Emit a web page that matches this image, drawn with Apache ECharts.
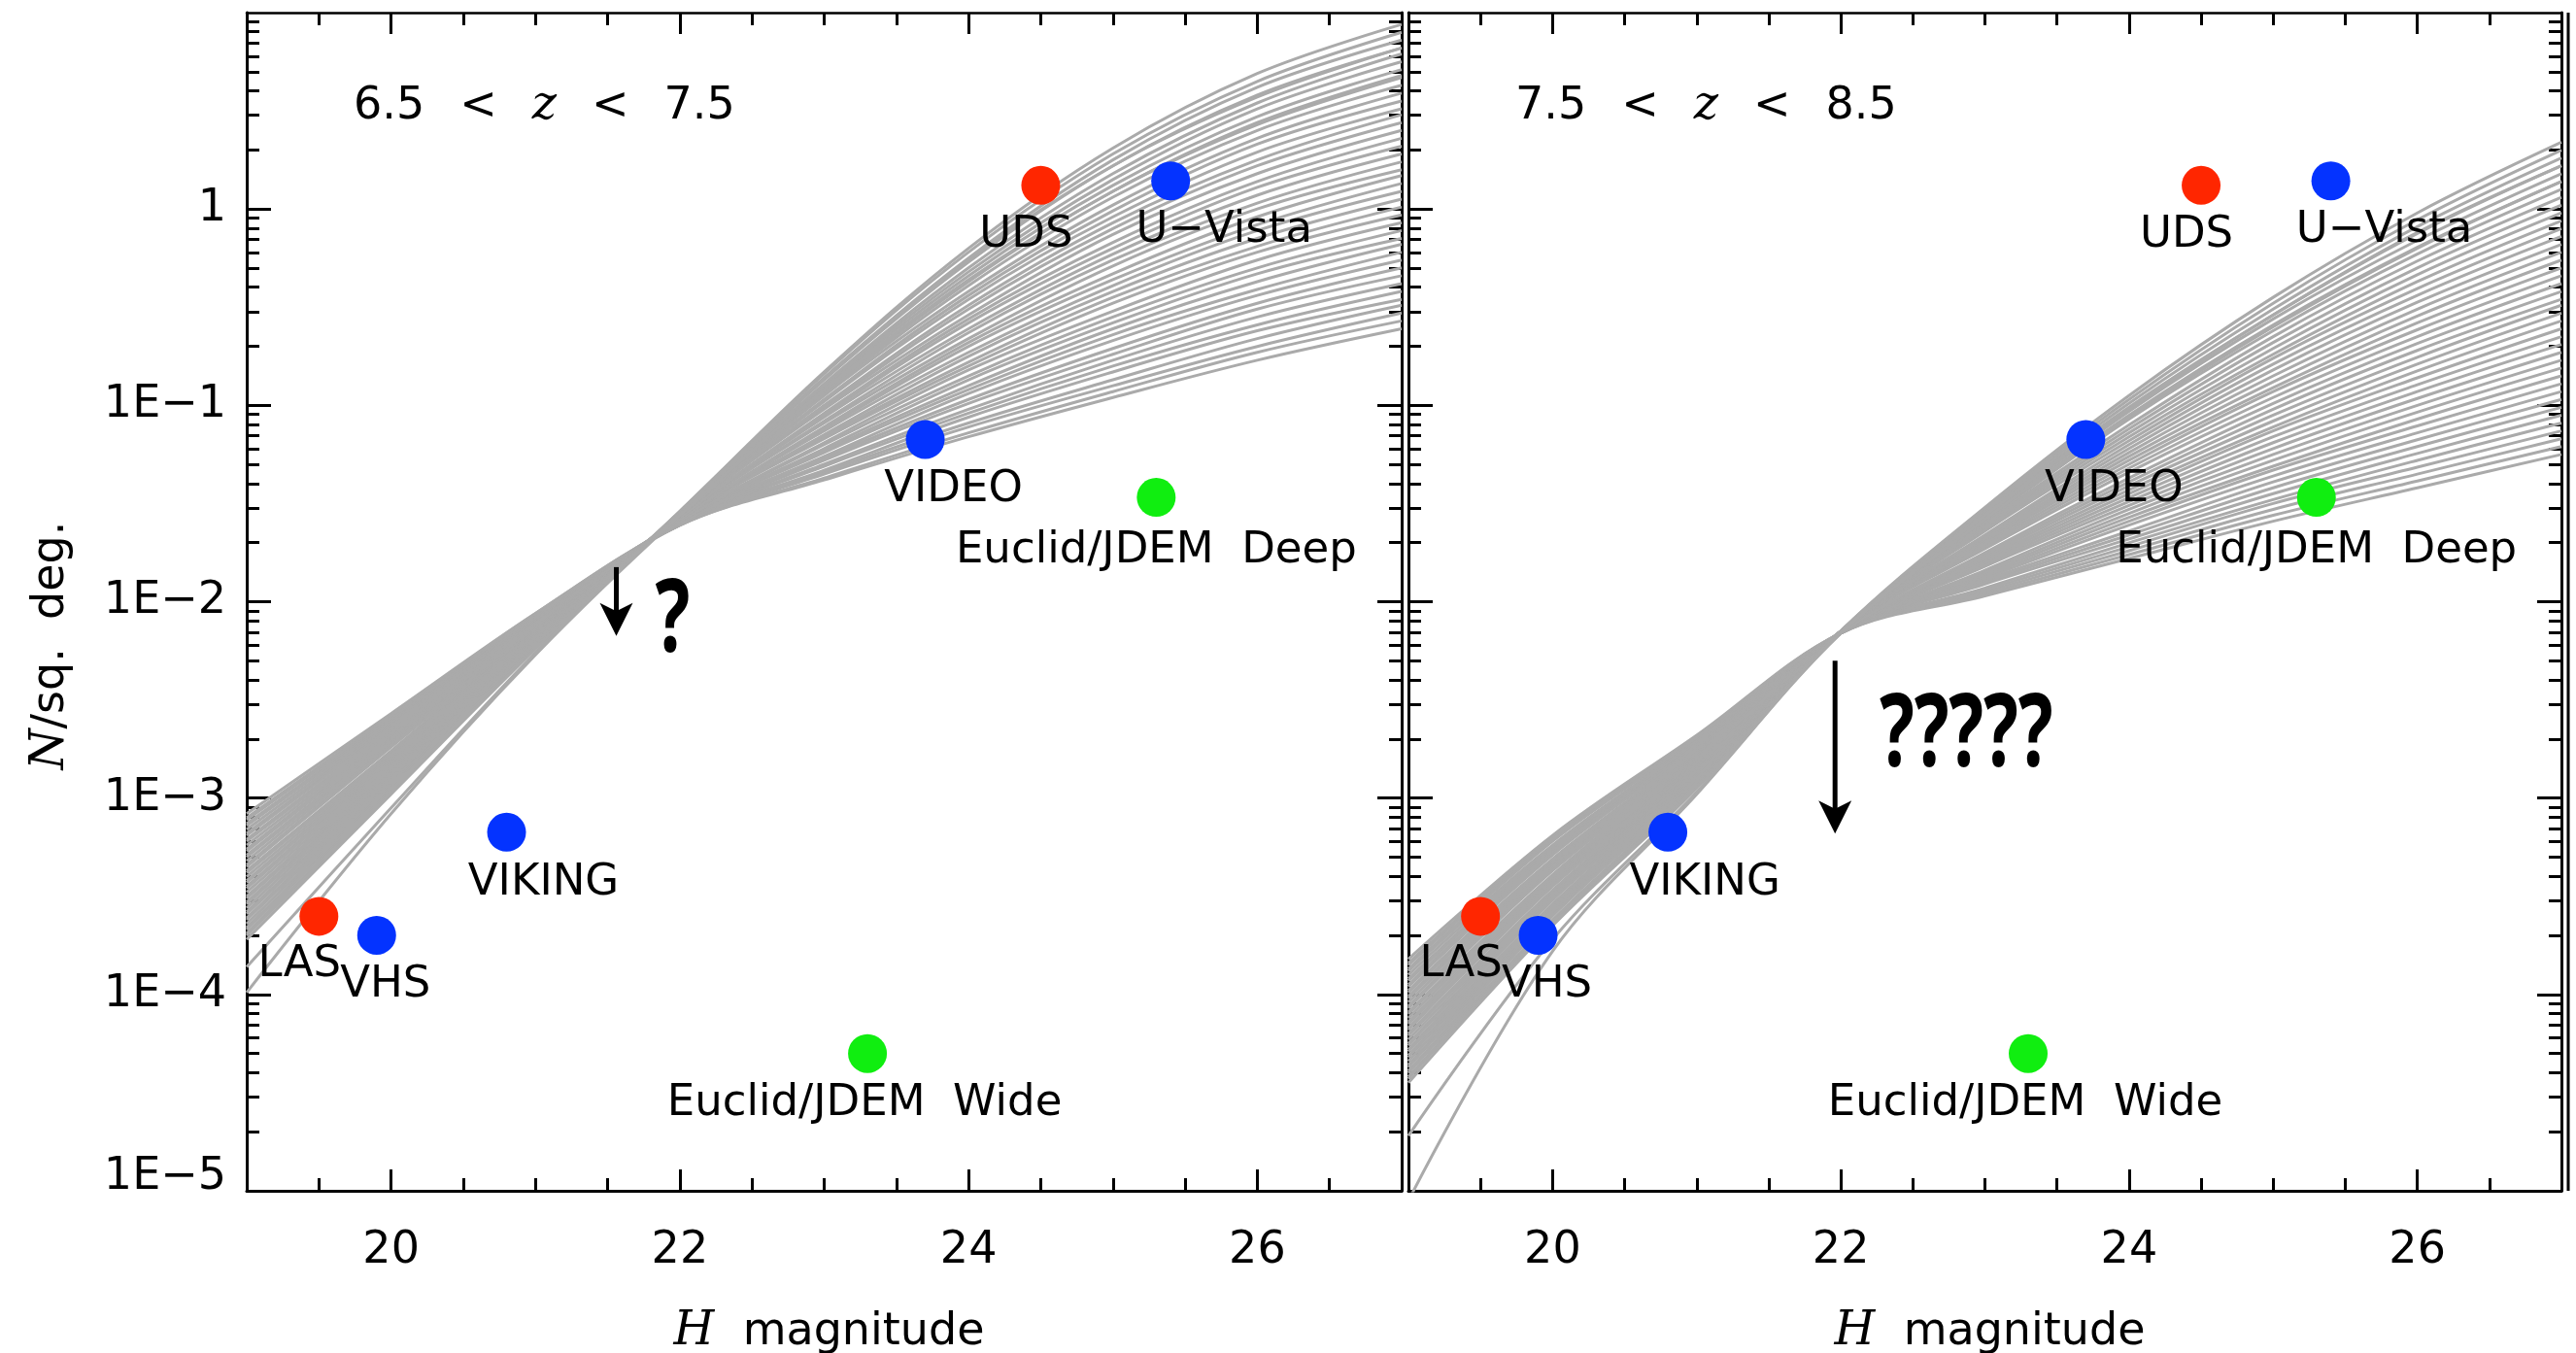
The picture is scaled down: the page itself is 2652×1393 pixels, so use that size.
<!DOCTYPE html>
<html>
<head>
<meta charset="utf-8">
<title>Surface density of high-z quasars vs H magnitude</title>
<script src="https://cdn.jsdelivr.net/npm/echarts@6/dist/echarts.min.js"></script>
<style>
  html, body { margin: 0; padding: 0; background: #ffffff; overflow: hidden; }
  #chart { width: 2652px; height: 1393px; }
</style>
</head>
<body>
<div id="chart"></div>
<script>
// ---- data -------------------------------------------------------------
// H magnitudes at which each model count curve is tabulated
const hGrid = [19, 20, 21, 22, 23, 24, 25, 26, 27];

// log10 cumulative surface density (N per sq. deg.) of the model curves, 6.5 < z < 7.5
const curvesLow = [
  [-3.08, -2.57, -2.06, -1.61, -1.38, -1.16, -0.96, -0.77, -0.61],
  [-3.10, -2.58, -2.06, -1.61, -1.37, -1.14, -0.93, -0.73, -0.57],
  [-3.11, -2.59, -2.07, -1.61, -1.35, -1.11, -0.90, -0.70, -0.53],
  [-3.13, -2.60, -2.07, -1.61, -1.34, -1.09, -0.87, -0.66, -0.49],
  [-3.14, -2.61, -2.08, -1.60, -1.33, -1.06, -0.83, -0.62, -0.46],
  [-3.16, -2.62, -2.08, -1.60, -1.31, -1.04, -0.80, -0.59, -0.42],
  [-3.18, -2.63, -2.09, -1.60, -1.30, -1.02, -0.77, -0.55, -0.38],
  [-3.19, -2.64, -2.09, -1.60, -1.28, -0.99, -0.74, -0.51, -0.34],
  [-3.21, -2.65, -2.10, -1.60, -1.27, -0.97, -0.71, -0.48, -0.30],
  [-3.22, -2.66, -2.10, -1.59, -1.26, -0.94, -0.67, -0.44, -0.26],
  [-3.24, -2.67, -2.11, -1.59, -1.24, -0.92, -0.64, -0.41, -0.22],
  [-3.26, -2.68, -2.11, -1.59, -1.23, -0.90, -0.61, -0.37, -0.18],
  [-3.27, -2.69, -2.11, -1.59, -1.22, -0.87, -0.58, -0.33, -0.15],
  [-3.29, -2.70, -2.12, -1.59, -1.20, -0.85, -0.55, -0.30, -0.11],
  [-3.30, -2.71, -2.12, -1.59, -1.19, -0.82, -0.52, -0.26, -0.07],
  [-3.32, -2.72, -2.13, -1.58, -1.17, -0.80, -0.48, -0.22, -0.03],
  [-3.34, -2.73, -2.13, -1.58, -1.16, -0.78, -0.45, -0.19,  0.01],
  [-3.35, -2.74, -2.14, -1.58, -1.15, -0.75, -0.42, -0.15,  0.05],
  [-3.37, -2.76, -2.14, -1.58, -1.13, -0.73, -0.39, -0.11,  0.09],
  [-3.38, -2.77, -2.15, -1.58, -1.12, -0.70, -0.36, -0.08,  0.13],
  [-3.40, -2.78, -2.15, -1.58, -1.11, -0.68, -0.33, -0.04,  0.17],
  [-3.42, -2.79, -2.15, -1.57, -1.09, -0.66, -0.29,  0.00,  0.20],
  [-3.43, -2.80, -2.16, -1.57, -1.08, -0.63, -0.26,  0.03,  0.24],
  [-3.45, -2.81, -2.16, -1.57, -1.06, -0.61, -0.23,  0.07,  0.28],
  [-3.46, -2.82, -2.17, -1.57, -1.05, -0.58, -0.20,  0.11,  0.32],
  [-3.48, -2.83, -2.17, -1.57, -1.04, -0.56, -0.17,  0.14,  0.36],
  [-3.50, -2.84, -2.18, -1.56, -1.02, -0.54, -0.13,  0.18,  0.40],
  [-3.51, -2.85, -2.18, -1.56, -1.01, -0.51, -0.10,  0.22,  0.44],
  [-3.53, -2.86, -2.19, -1.56, -1.00, -0.49, -0.07,  0.25,  0.48],
  [-3.54, -2.87, -2.19, -1.56, -0.98, -0.46, -0.04,  0.29,  0.51],
  [-3.56, -2.88, -2.20, -1.56, -0.97, -0.44, -0.01,  0.33,  0.55],
  [-3.58, -2.89, -2.20, -1.56, -0.95, -0.42,  0.02,  0.36,  0.59],
  [-3.59, -2.90, -2.20, -1.55, -0.94, -0.39,  0.06,  0.40,  0.63],
  [-3.61, -2.91, -2.21, -1.55, -0.93, -0.37,  0.09,  0.43,  0.67],
  [-3.62, -2.92, -2.21, -1.55, -0.91, -0.34,  0.12,  0.47,  0.71],
  [-3.64, -2.93, -2.22, -1.55, -0.90, -0.32,  0.15,  0.51,  0.75],
  [-3.66, -2.94, -2.22, -1.55, -0.89, -0.30,  0.18,  0.54,  0.79],
  [-3.67, -2.95, -2.23, -1.55, -0.87, -0.27,  0.22,  0.58,  0.82],
  [-3.69, -2.96, -2.23, -1.54, -0.86, -0.25,  0.25,  0.62,  0.86],
  [-3.70, -2.97, -2.24, -1.54, -0.84, -0.22,  0.28,  0.65,  0.90],
  [-3.72, -2.98, -2.24, -1.54, -0.83, -0.20,  0.31,  0.69,  0.94],
  [-3.86, -3.05, -2.26, -1.55, -0.86, -0.26,  0.22,  0.57,  0.82],
  [-3.99, -3.08, -2.27, -1.56, -0.92, -0.36,  0.09,  0.44,  0.68]
];

// log10 cumulative surface density of the model curves, 7.5 < z < 8.5
const curvesHigh = [
  [-3.82, -3.19, -2.68, -2.16, -1.97, -1.78, -1.59, -1.420, -1.25],
  [-3.84, -3.20, -2.69, -2.16, -1.96, -1.76, -1.56, -1.385, -1.21],
  [-3.85, -3.21, -2.69, -2.16, -1.95, -1.74, -1.53, -1.350, -1.17],
  [-3.87, -3.22, -2.70, -2.16, -1.94, -1.72, -1.50, -1.315, -1.13],
  [-3.88, -3.24, -2.71, -2.16, -1.93, -1.70, -1.48, -1.280, -1.09],
  [-3.90, -3.25, -2.71, -2.16, -1.91, -1.68, -1.45, -1.245, -1.05],
  [-3.92, -3.26, -2.72, -2.16, -1.90, -1.66, -1.42, -1.210, -1.01],
  [-3.93, -3.27, -2.73, -2.16, -1.89, -1.64, -1.39, -1.175, -0.97],
  [-3.95, -3.28, -2.73, -2.16, -1.88, -1.61, -1.36, -1.140, -0.93],
  [-3.96, -3.29, -2.74, -2.16, -1.87, -1.59, -1.33, -1.105, -0.89],
  [-3.98, -3.31, -2.75, -2.16, -1.86, -1.57, -1.31, -1.070, -0.85],
  [-3.99, -3.32, -2.75, -2.16, -1.85, -1.55, -1.28, -1.035, -0.81],
  [-4.01, -3.33, -2.76, -2.16, -1.84, -1.53, -1.25, -1.000, -0.77],
  [-4.02, -3.34, -2.77, -2.16, -1.82, -1.51, -1.22, -0.965, -0.73],
  [-4.04, -3.35, -2.77, -2.16, -1.81, -1.49, -1.19, -0.930, -0.69],
  [-4.06, -3.36, -2.78, -2.16, -1.80, -1.47, -1.16, -0.895, -0.65],
  [-4.07, -3.37, -2.79, -2.16, -1.79, -1.45, -1.13, -0.860, -0.61],
  [-4.09, -3.39, -2.79, -2.16, -1.78, -1.43, -1.11, -0.825, -0.57],
  [-4.10, -3.40, -2.80, -2.16, -1.77, -1.41, -1.08, -0.790, -0.53],
  [-4.12, -3.41, -2.81, -2.16, -1.76, -1.39, -1.05, -0.755, -0.49],
  [-4.14, -3.42, -2.82, -2.16, -1.75, -1.37, -1.02, -0.720, -0.46],
  [-4.15, -3.43, -2.82, -2.15, -1.73, -1.34, -0.99, -0.685, -0.42],
  [-4.17, -3.44, -2.83, -2.15, -1.72, -1.32, -0.96, -0.650, -0.38],
  [-4.18, -3.45, -2.84, -2.15, -1.71, -1.30, -0.93, -0.615, -0.34],
  [-4.20, -3.47, -2.84, -2.15, -1.70, -1.28, -0.91, -0.580, -0.30],
  [-4.21, -3.48, -2.85, -2.15, -1.69, -1.26, -0.88, -0.545, -0.26],
  [-4.23, -3.49, -2.86, -2.15, -1.68, -1.24, -0.85, -0.510, -0.22],
  [-4.25, -3.50, -2.86, -2.15, -1.67, -1.22, -0.82, -0.475, -0.18],
  [-4.26, -3.51, -2.87, -2.15, -1.66, -1.20, -0.79, -0.440, -0.14],
  [-4.28, -3.52, -2.88, -2.15, -1.64, -1.18, -0.76, -0.405, -0.10],
  [-4.29, -3.54, -2.88, -2.15, -1.63, -1.16, -0.74, -0.370, -0.06],
  [-4.31, -3.55, -2.89, -2.15, -1.62, -1.14, -0.71, -0.335, -0.02],
  [-4.32, -3.56, -2.90, -2.15, -1.61, -1.12, -0.68, -0.300,  0.02],
  [-4.34, -3.57, -2.90, -2.15, -1.60, -1.10, -0.65, -0.265,  0.06],
  [-4.36, -3.58, -2.91, -2.15, -1.59, -1.07, -0.62, -0.230,  0.10],
  [-4.37, -3.59, -2.92, -2.15, -1.58, -1.05, -0.59, -0.195,  0.14],
  [-4.39, -3.60, -2.92, -2.15, -1.57, -1.03, -0.56, -0.160,  0.18],
  [-4.40, -3.62, -2.93, -2.15, -1.55, -1.01, -0.54, -0.125,  0.22],
  [-4.42, -3.63, -2.94, -2.15, -1.54, -0.99, -0.51, -0.090,  0.26],
  [-4.43, -3.64, -2.94, -2.15, -1.53, -0.97, -0.48, -0.055,  0.30],
  [-4.45, -3.65, -2.95, -2.15, -1.52, -0.95, -0.45, -0.020,  0.34],
  [-5.05, -3.78, -2.98, -2.16, -1.56, -1.02, -0.54, -0.120,  0.22],
  [-4.72, -3.72, -2.97, -2.16, -1.58, -1.06, -0.60, -0.200,  0.14]
];

// survey depth / area points (same in both redshift panels)
const surveyNames = ['LAS', 'VHS', 'VIKING', 'VIDEO', 'UDS', 'U\u2212Vista', 'Euclid/JDEM  Wide', 'Euclid/JDEM  Deep'];
const surveyH     = [19.5, 19.9, 20.8, 23.7, 24.5, 25.4, 23.3, 25.3];
const surveyN     = [2.5e-4, 2.0e-4, 6.7e-4, 0.067, 1.32, 1.39, 5.0e-5, 0.034];
const surveyKind  = ['ukidss', 'vista', 'vista', 'vista', 'ukidss', 'vista', 'space', 'space'];

// downward "unknown" arrows: [H, N at tail, N at tip]
const arrowLow  = [21.56, 0.015, 0.0067];
const arrowHigh = [21.96, 0.0050, 6.6e-4];
// question marks next to the arrows: [H, N] and the text
const askLow  = [21.95, 0.0078];
const askHigh = [22.87, 0.00204];
const askText = ['?', '?????'];

const panelTitles = ['6.5{s| }<{s| }{i|z}{s| }<{s| }7.5', '7.5{s| }<{s| }{i|z}{s| }<{s| }8.5'];
const xAxisTitle = '{i|H}  magnitude';
const yAxisTitle = '{i|N}/sq.  deg.';
const xMajorTicks = [20, 22, 24, 26];
const yMajorTicks = [1e-5, 1e-4, 1e-3, 1e-2, 1e-1, 1];
const yTickLabels = ['1E\u22125', '1E\u22124', '1E\u22123', '1E\u22122', '1E\u22121', '1'];

// ---- styling ----------------------------------------------------------
const INK = '#000000';
const FONT = 'DejaVu Sans';
const CURVE_GREY = '#aaaaaa';
const kindColor = { ukidss: '#ff2600', vista: '#0433ff', space: '#10ee10' };
// label centre relative to the marker centre, px
const labelNudge = {
  'LAS': [-20, 50], 'VHS': [9, 51], 'VIKING': [38, 52], 'VIDEO': [29, 52],
  'UDS': [-15, 52], 'U\u2212Vista': [55, 51], 'Euclid/JDEM  Wide': [-3, 52], 'Euclid/JDEM  Deep': [0, 55]
};
const panelRects = [
  { left: 254, top: 13, width: 1189, height: 1213 },
  { left: 1450, top: 13, width: 1187, height: 1213 }
];

// minor log ticks 2..9 in every decade
const yMinorTicks = [];
for (let e = -5; e <= 0; e++) {
  for (let m = 2; m <= 9; m++) yMinorTicks.push(+(m * Math.pow(10, e)).toPrecision(3));
}

function yLabel(v) {
  const e = Math.round(Math.log10(v));
  const i = yMajorTicks.findIndex(t => Math.round(Math.log10(t)) === e);
  if (i < 0) return '';
  // lowest label is lifted clear of the bottom axis
  return i === 0 ? '{lo|' + yTickLabels[i] + '}' : yTickLabels[i];
}

const italic = { fontFamily: 'DejaVu Serif', fontStyle: 'italic', fontSize: 48 };

function xAxesFor(g) {
  const base = { gridIndex: g, type: 'value', min: 19, max: 27, splitLine: { show: false } };
  const tickStyle = { color: INK, width: 3 };
  return [
    Object.assign({}, base, {
      position: 'bottom',
      axisLine: { show: true, onZero: false, lineStyle: { color: INK, width: 3 } },
      axisTick: { show: true, inside: true, length: 22, customValues: xMajorTicks, lineStyle: tickStyle },
      axisLabel: { show: true, customValues: xMajorTicks, margin: 39, fontSize: 46, lineHeight: 46,
                   fontFamily: FONT, color: INK }
    }),
    Object.assign({}, base, {
      position: 'bottom', interval: 0.5,
      axisLine: { show: false, onZero: false },
      axisTick: { show: true, inside: true, length: 13, lineStyle: tickStyle },
      axisLabel: { show: false }
    }),
    Object.assign({}, base, {
      position: 'top',
      axisLine: { show: true, onZero: false, lineStyle: { color: INK, width: 2.5 } },
      axisTick: { show: true, inside: true, length: 22, customValues: xMajorTicks, lineStyle: tickStyle },
      axisLabel: { show: false }
    }),
    Object.assign({}, base, {
      position: 'top', interval: 0.5,
      axisLine: { show: false, onZero: false },
      axisTick: { show: true, inside: true, length: 13, lineStyle: tickStyle },
      axisLabel: { show: false }
    })
  ];
}

function yAxesFor(g) {
  const base = { gridIndex: g, type: 'log', logBase: 10, min: 1e-5, max: 10, splitLine: { show: false } };
  const tickStyle = { color: INK, width: 3 };
  const main = Object.assign({}, base, {
    position: 'left',
    axisLine: { show: true, onZero: false, lineStyle: { color: INK, width: 3 } },
    axisTick: { show: true, inside: true, length: 25, customValues: yMajorTicks, lineStyle: tickStyle },
    axisLabel: g === 0
      ? { show: true, customValues: yMajorTicks, formatter: yLabel, margin: 21, fontSize: 46,
          fontFamily: FONT, color: INK, rich: { lo: { padding: [0, 0, 28, 0] } } }
      : { show: false }
  });
  if (g === 0) {
    Object.assign(main, {
      name: yAxisTitle, nameLocation: 'middle', nameGap: 178, nameRotate: 90,
      nameTextStyle: { fontSize: 46, lineHeight: 46, fontFamily: FONT, color: INK,
                       padding: [0, 90, 0, 0], rich: { i: italic } }
    });
  }
  return [
    main,
    Object.assign({}, base, {
      position: 'left',
      axisLine: { show: false, onZero: false },
      axisTick: { show: true, inside: true, length: 13, customValues: yMinorTicks, lineStyle: tickStyle },
      axisLabel: { show: false }
    }),
    Object.assign({}, base, {
      position: 'right',
      axisLine: { show: true, onZero: false, lineStyle: { color: INK, width: 3 } },
      axisTick: { show: true, inside: true, length: 25, customValues: yMajorTicks, lineStyle: tickStyle },
      axisLabel: { show: false }
    }),
    Object.assign({}, base, {
      position: 'right',
      axisLine: { show: false, onZero: false },
      axisTick: { show: true, inside: true, length: 13, customValues: yMinorTicks, lineStyle: tickStyle },
      axisLabel: { show: false }
    })
  ];
}

function curveSeries(g, curves) {
  return curves.map((c, k) => ({
    type: 'line', name: 'model ' + g + '-' + k,
    xAxisIndex: 4 * g, yAxisIndex: 4 * g,
    data: hGrid.map((h, i) => [h, Math.pow(10, c[i])]),
    smooth: 0.35, symbol: 'none', silent: true, z: 2,
    lineStyle: { color: CURVE_GREY, width: 3 }
  }));
}

function surveySeries(g) {
  return {
    type: 'scatter', name: 'surveys ' + g,
    xAxisIndex: 4 * g, yAxisIndex: 4 * g, z: 5, silent: true,
    symbol: 'circle', symbolSize: 40,
    itemStyle: { opacity: 1 },
    data: surveyNames.map((n, i) => ({
      name: n, value: [surveyH[i], surveyN[i]],
      itemStyle: { color: kindColor[surveyKind[i]], opacity: 1 },
      label: { offset: labelNudge[n] }
    })),
    label: {
      show: true, position: 'inside', formatter: '{b}', align: 'center', verticalAlign: 'middle',
      fontSize: 45, fontFamily: FONT, color: INK, opacity: 1, textBorderWidth: 0
    }
  };
}

function arrowSeries(g, spec) {
  return {
    type: 'custom', name: 'arrow ' + g, xAxisIndex: 4 * g, yAxisIndex: 4 * g, z: 6, silent: true,
    data: [spec],
    renderItem: function (params, api) {
      const h = api.value(0);
      const p1 = api.coord([h, api.value(1)]);
      const p2 = api.coord([h, api.value(2)]);
      const headW = 34, headH = 34;
      return {
        type: 'group',
        children: [
          { type: 'line', shape: { x1: p1[0], y1: p1[1], x2: p2[0], y2: p2[1] - headH * 0.7 },
            style: { stroke: INK, lineWidth: 5 } },
          { type: 'polygon',
            shape: { points: [[p2[0], p2[1]], [p2[0] - headW / 2, p2[1] - headH],
                              [p2[0], p2[1] - headH * 0.75], [p2[0] + headW / 2, p2[1] - headH]] },
            style: { fill: INK } }
        ]
      };
    }
  };
}

function askSeries(g, spec) {
  return {
    type: 'custom', name: 'unknown ' + g, xAxisIndex: 4 * g, yAxisIndex: 4 * g, z: 6, silent: true,
    data: [spec],
    renderItem: function (params, api) {
      const p = api.coord([api.value(0), api.value(1)]);
      return {
        type: 'text', x: p[0], y: p[1], scaleX: 0.72,
        style: { text: askText[g], fontSize: 104, fontWeight: 'bold', fontFamily: 'Noto Sans',
                 fill: INK, align: 'center', verticalAlign: 'middle' }
      };
    }
  };
}

const chart = echarts.init(document.getElementById('chart'), null, { renderer: 'canvas', width: 2652, height: 1393 });

const xAxis = xAxesFor(0).concat(xAxesFor(1));
const yAxis = yAxesFor(0).concat(yAxesFor(1));
const series = []
  .concat(curveSeries(0, curvesLow))
  .concat(curveSeries(1, curvesHigh))
  .concat([surveySeries(0), surveySeries(1)])
  .concat([arrowSeries(0, arrowLow), arrowSeries(1, arrowHigh)])
  .concat([askSeries(0, askLow), askSeries(1, askHigh)]);

const edge = panelRects[1].left + panelRects[1].width + 7;

const titleStyle = { fontSize: 46, lineHeight: 46, fontWeight: 'normal', fontFamily: FONT, color: INK,
                     rich: { i: italic, s: { width: 36 } } };

// panel redshift labels (top-left inside) and H-magnitude titles centred below each panel
const titles = panelTitles.map((t, g) => ({
  text: t, left: panelRects[g].left + 105, top: 82, textStyle: titleStyle
})).concat(panelRects.map(r => ({
  text: xAxisTitle, left: r.left + r.width / 2, top: r.top + r.height + 118,
  textAlign: 'center', textStyle: titleStyle
})));

chart.setOption({
  animation: false,
  backgroundColor: '#ffffff',
  textStyle: { fontFamily: FONT, color: INK },
  grid: panelRects.map(r => Object.assign({ containLabel: false, outerBoundsMode: 'none' }, r)),
  title: titles,
  xAxis: xAxis,
  yAxis: yAxis,
  series: series,
  graphic: [{
    type: 'line', silent: true,
    shape: { x1: edge, y1: panelRects[1].top, x2: edge, y2: panelRects[1].top + panelRects[1].height },
    style: { stroke: INK, lineWidth: 3 }
  }]
});
</script>
</body>
</html>
